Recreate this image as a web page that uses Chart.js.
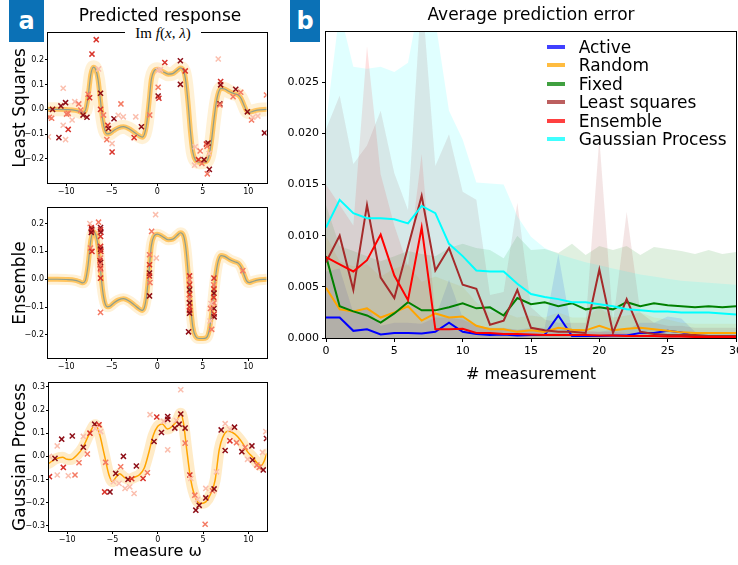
<!DOCTYPE html>
<html>
<head>
<meta charset="utf-8">
<title>Predicted response / prediction error</title>
<script src="https://cdn.jsdelivr.net/npm/chart.js@4.4.1/dist/chart.umd.min.js"></script>
<style>
  html, body { margin: 0; padding: 0; background: #fff; }
  body { position: relative; width: 738px; height: 565px; overflow: hidden; font-family: 'DejaVu Sans', sans-serif; color: #000; }
  canvas { position: absolute; }
  .tag { position: absolute; top: 0; height: 42px; background: #0b71b6; color: #fff; font-weight: bold; font-size: 24px; display: flex; align-items: center; justify-content: center; z-index: 3; }
  .title { position: absolute; font-size: 17px; line-height: 22px; white-space: nowrap; transform: translateX(-50%); z-index: 2; }
  .im { position: absolute; left: 125px; top: 24px; width: 76px; height: 18px; line-height: 18px; background: #fff; text-align: center; font-family: 'Liberation Serif', 'DejaVu Serif', serif; font-size: 15px; z-index: 2; }
  #legendB { position: absolute; left: 547px; top: 37.5px; z-index: 2; }
  #legendB .row { height: 18.5px; display: flex; align-items: center; font-size: 17px; white-space: nowrap; }
  #legendB .sw { width: 18px; height: 4px; margin-right: 13.7px; opacity: 0.75; }
</style>
</head>
<body>
<div class="tag" style="left:9px;width:35px">a</div>
<div class="tag" style="left:290px;width:30px">b</div>
<div class="title" style="left:160px;top:4px">Predicted response</div>
<div class="im">Im <i>f</i>(<i>x</i>, <i>λ</i>)</div>
<div id="legendB"></div>
<canvas id="lsq" width="272" height="200" style="left:0;top:0"></canvas>
<canvas id="ens" width="272" height="200" style="left:0;top:175px"></canvas>
<canvas id="gpr" width="272" height="215" style="left:0;top:350px"></canvas>
<canvas id="err" width="462" height="390" style="left:276px;top:0"></canvas>

<script>
// ---------- panel a: response curves and sampled measurements ----------
const omegaTicks = [-10, -5, 0, 5, 10];
const lsqTicks = [-0.2, -0.1, 0, 0.1, 0.2];
const ensTicks = [-0.2, -0.1, 0, 0.1, 0.2];
const gprTicks = [-0.3, -0.2, -0.1, 0, 0.1, 0.2, 0.3];

// true response Im f(omega)
const curveX = [-12, -11, -10, -9, -8.6, -8.2, -7.9, -7.6, -7.3, -7.0, -6.75, -6.5, -6.25, -6.0, -5.75, -5.5, -5.2, -4.8, -4.3,
  -3.7, -3.1, -2.5, -2.0, -1.65, -1.4, -1.15, -0.9, -0.65, -0.35, 0.0, 0.6, 1.2, 1.7, 2.2, 2.55, 2.9, 3.15, 3.4, 3.65, 3.9,
  4.2, 4.6, 5.0, 5.4, 5.7, 5.95, 6.2, 6.45, 6.7, 7.0, 7.4, 8.0, 8.5, 8.9, 9.2, 9.5, 9.8, 10.1, 10.5, 11, 12];
const curveY = [0, 0, -0.001, -0.004, -0.008, -0.013, -0.005, 0.05, 0.14, 0.17, 0.16, 0.12, 0.04, -0.04, -0.085, -0.099, -0.097,
  -0.086, -0.075, -0.07, -0.078, -0.093, -0.106, -0.112, -0.1, -0.055, 0.03, 0.12, 0.155, 0.162, 0.153, 0.142, 0.144, 0.158,
  0.167, 0.155, 0.11, 0.02, -0.09, -0.17, -0.205, -0.213, -0.213, -0.21, -0.185, -0.13, -0.05, 0.02, 0.065, 0.085, 0.082,
  0.07, 0.063, 0.058, 0.045, 0.02, -0.005, -0.012, -0.008, -0.003, 0];

// Gaussian-process posterior mean
const gprX = [-12, -11.3, -10.5, -10, -9.6, -8.9, -8.25, -7.6, -6.9, -6.5, -5.93, -5.38, -5.0, -4.57, -4.2, -3.72, -3.17, -2.6,
  -2.06, -1.5, -0.96, -0.5, 0, 0.5, 1.07, 1.6, 2.17, 2.54, 2.84, 3.2, 3.65, 4.2, 4.75, 5.3, 5.86, 6.33, 6.78, 7.15, 7.7, 8.25,
  8.8, 9.36, 9.9, 10.46, 11.0, 11.4, 11.75, 12];
const gprY = [-0.03, -0.012, -0.004, -0.013, -0.014, 0.006, 0.039, 0.093, 0.136, 0.107, 0.013, -0.081, -0.11, -0.088, -0.075,
  -0.09, -0.1, -0.091, -0.081, -0.052, 0.02, 0.09, 0.13, 0.14, 0.118, 0.13, 0.158, 0.186, 0.143, 0.028, -0.103, -0.183, -0.204,
  -0.197, -0.161, -0.103, 0.028, 0.08, 0.108, 0.103, 0.086, 0.057, 0.02, -0.003, -0.03, -0.04, -0.02, 0.01];

// measurements: [omega, value, shade]; shade goes from early (light) to late (dark)
const markerShades = ['#fbbfae', '#f47a63', '#d9342b', '#8e0e17'];

const lsqPoints = [
  [-6.70, 0.281, 2], [-7.17, 0.223, 2], [-6.45, 0.163, 0], [-7.60, 0.061, 1], [-7.43, 0.047, 2], [-6.23, 0.065, 3],
  [-6.23, 0.000, 2], [-5.90, -0.023, 1], [-5.43, -0.064, 2], [-5.36, -0.077, 3], [-5.54, -0.122, 1], [-4.96, -0.138, 0],
  [-4.96, -0.172, 2], [-4.75, -0.038, 3], [-4.28, -0.024, 0], [-3.99, 0.022, 1], [-3.73, -0.030, 0], [-2.36, -0.030, 0],
  [-2.54, -0.114, 2], [-1.74, -0.070, 3], [-0.83, -0.023, 1], [0.10, 0.054, 3], [0.18, 0.045, 2], [0.10, 0.089, 1],
  [0.10, 0.157, 0], [0.35, 0.160, 0], [0.83, 0.189, 2], [2.54, 0.196, 3], [2.54, 0.101, 3], [3.08, 0.155, 2],
  [4.17, -0.151, 0], [4.71, -0.168, 1], [4.53, -0.203, 2], [4.90, -0.218, 1], [5.14, -0.203, 3], [5.40, -0.140, 2],
  [5.58, -0.136, 3], [5.47, -0.149, 1], [5.69, -0.178, 0], [5.50, -0.260, 1], [5.72, -0.242, 3], [4.10, -0.225, 0],
  [6.70, 0.203, 0], [6.96, 0.112, 2], [6.96, 0.099, 3], [6.88, 0.022, 3], [6.88, 0.018, 1], [8.33, 0.051, 1],
  [8.62, 0.081, 3], [9.17, 0.069, 1], [9.90, -0.010, 3], [10.36, -0.043, 1], [10.50, -0.032, 0], [11.05, -0.027, 0],
  [11.78, -0.095, 3], [12.00, 0.058, 1], [-11.96, -0.111, 0], [-11.85, -0.032, 1], [-11.60, -0.036, 1], [-11.50, 0.000, 3],
  [-10.58, 0.014, 3], [-10.33, 0.085, 0], [-10.33, -0.064, 0], [-10.80, -0.114, 3], [-10.07, 0.027, 3], [-10.07, -0.122, 0],
  [-9.96, -0.019, 1], [-9.78, -0.081, 2], [-9.78, -0.016, 1], [-9.35, -0.043, 0], [-9.06, 0.031, 0], [-8.62, 0.022, 1],
  [-8.40, -0.003, 1], [-8.15, -0.023, 3], [-7.72, -0.032, 3]
];

const ensPoints = [
  [-7.40, 0.200, 0], [-7.25, 0.186, 2], [-7.20, 0.180, 3], [-7.20, 0.174, 2], [-7.25, 0.168, 3], [-7.33, 0.112, 1],
  [-7.17, 0.100, 2], [-6.45, 0.205, 1], [-6.23, 0.186, 3], [-6.23, 0.178, 2], [-6.20, 0.169, 3], [-6.23, 0.154, 2],
  [-6.23, 0.118, 2], [-6.23, 0.108, 3], [-6.20, 0.100, 2], [-6.23, 0.076, 1], [-6.30, 0.067, 2], [-6.23, 0.060, 3],
  [-6.30, 0.052, 1], [-6.23, 0.040, 2], [-6.23, 0.034, 1], [-6.23, 0.004, 2], [-6.23, -0.119, 1], [-0.85, 0.088, 1],
  [-0.85, 0.052, 2], [-0.85, 0.022, 3], [-0.85, 0.012, 2], [-0.80, -0.012, 1], [-0.85, -0.060, 3], [-0.62, 0.172, 1],
  [-0.18, 0.232, 0], [-0.10, 0.076, 0], [3.55, 0.012, 2], [3.55, -0.002, 1], [3.55, -0.020, 2], [3.55, -0.038, 3],
  [3.55, -0.055, 2], [3.50, -0.070, 1], [3.55, -0.085, 3], [3.55, -0.100, 2], [3.55, -0.112, 2], [3.55, -0.122, 3],
  [3.44, -0.189, 3], [6.23, 0.004, 2], [6.20, -0.020, 1], [6.23, -0.035, 2], [6.23, -0.050, 3], [6.20, -0.065, 2],
  [6.23, -0.085, 1], [6.23, -0.105, 3], [6.25, -0.125, 2], [6.25, -0.135, 3], [5.90, -0.087, 0], [5.85, -0.105, 1],
  [5.98, -0.180, 1], [5.80, -0.150, 0], [9.40, 0.031, 1]
];

const gprPoints = [
  [-11.95, -0.088, 2], [-11.95, 0.000, 0], [-11.34, -0.009, 3], [-11.09, 0.045, 0], [-11.09, -0.081, 0], [-10.60, 0.074, 3],
  [-10.42, -0.048, 2], [-9.87, -0.084, 0], [-9.43, 0.088, 3], [-9.13, -0.081, 1], [-8.69, -0.028, 1], [-8.21, 0.039, 3],
  [-8.21, 0.086, 0], [-7.77, 0.010, 1], [-7.48, 0.100, 2], [-6.96, 0.139, 3], [-6.48, 0.136, 2], [-6.30, 0.107, 0],
  [-6.90, 0.120, 0], [-5.75, -0.026, 1], [-5.86, -0.154, 2], [-5.27, -0.154, 3], [-4.90, -0.110, 0], [-4.64, -0.074, 3],
  [-4.27, -0.117, 0], [-4.09, -0.045, 1], [-3.79, 0.000, 3], [-3.61, -0.139, 0], [-3.28, -0.100, 3], [-3.09, -0.132, 0],
  [-2.87, -0.097, 2], [-2.61, -0.161, 0], [-2.36, -0.042, 3], [-1.62, -0.096, 2], [-1.14, -0.071, 1], [-0.85, 0.180, 0],
  [-0.41, 0.064, 3], [-0.11, 0.170, 2], [0.41, 0.103, 3], [0.63, 0.151, 0], [1.10, 0.028, 0], [1.10, 0.172, 3],
  [1.10, 0.160, 3], [1.88, 0.122, 3], [2.06, 0.155, 0], [2.36, 0.139, 3], [2.54, 0.183, 3], [2.54, 0.288, 0],
  [3.02, 0.122, 3], [3.02, 0.057, 1], [3.54, -0.081, 2], [3.65, -0.096, 0], [4.09, -0.168, 1], [4.38, -0.187, 0],
  [4.20, -0.233, 3], [4.57, -0.212, 3], [5.30, -0.139, 0], [5.30, -0.180, 3], [5.23, -0.294, 1], [6.04, -0.149, 1],
  [6.22, -0.141, 3], [6.48, -0.067, 0], [7.00, 0.114, 3], [7.44, 0.141, 0], [7.44, 0.025, 3], [7.96, 0.067, 2],
  [7.96, 0.117, 0], [8.47, 0.126, 3], [8.69, 0.059, 1], [9.28, 0.020, 3], [9.65, 0.039, 1], [9.91, -0.013, 0],
  [10.39, 0.045, 3], [10.46, -0.016, 3], [10.94, -0.038, 1], [11.20, -0.048, 1], [11.64, -0.059, 3], [11.93, 0.107, 0],
  [12.00, 0.077, 3], [11.56, 0.017, 0]
];

// ---------- panel b: average prediction error vs number of measurements ----------
const steps = [0, 1, 2, 3, 4, 5, 6, 7, 8, 9, 10, 11, 12, 13, 14, 15, 16, 17, 18, 19, 20, 21, 22, 23, 24, 25, 26, 27, 28, 29, 30];
const stepTicks = [0, 5, 10, 15, 20, 25, 30];
const errTicks = [0, 0.005, 0.01, 0.015, 0.02, 0.025];

const seriesNames = ['Active', 'Random', 'Fixed', 'Least squares', 'Ensemble', 'Gaussian Process'];
const seriesColors = ['#0000ff', '#ffa500', '#008000', '#a52a2a', '#ff0000', '#00ffff'];

const activeErr = [0.0020, 0.0020, 0.0007, 0.00085, 0.00035, 0.0005, 0.0005, 0.00045, 0.0006, 0.0015, 0.0006, 0.0004, 0.0003,
  0.00035, 0.00025, 0.0003, 0.0003, 0.0022, 0.0002, 0.0002, 0.0002, 0.00025, 0.00025, 0.0005, 0.0005, 0.0007, 0.00055, 0.0002,
  0.00015, 0.00015, 0.00015];
const randomErr = [0.0049, 0.0028, 0.0026, 0.0029, 0.0020, 0.0025, 0.0031, 0.0017, 0.0024, 0.0020, 0.0021, 0.0012, 0.00085,
  0.00085, 0.0006, 0.00075, 0.0006, 0.0010, 0.0008, 0.00075, 0.0012, 0.00075, 0.0009, 0.0010, 0.00085, 0.0007, 0.00055, 0.0005,
  0.0005, 0.0005, 0.0005];
const fixedErr = [0.0080, 0.0031, 0.0026, 0.0022, 0.0015, 0.0024, 0.0035, 0.0027, 0.0027, 0.0030, 0.0034, 0.0029, 0.0030,
  0.0022, 0.0039, 0.0033, 0.0035, 0.0031, 0.0034, 0.0028, 0.0030, 0.0028, 0.0035, 0.0031, 0.0034, 0.0032, 0.0031, 0.0030,
  0.0031, 0.0030, 0.0031];
const lsqErr = [0.0074, 0.0100, 0.0047, 0.0130, 0.0059, 0.0039, 0.0089, 0.0139, 0.0066, 0.0088, 0.0052, 0.0048, 0.0013, 0.0017,
  0.0047, 0.0010, 0.00075, 0.0006, 0.0006, 0.0005, 0.0067, 0.0005, 0.0038, 0.0006, 0.0004, 0.0003, 0.0003, 0.0003, 0.0002,
  0.0002, 0.0002];
const ensErr = [0.0079, 0.0072, 0.0065, 0.0076, 0.0101, 0.0061, 0.0037, 0.0108, 0.00085, 0.00085, 0.0009, 0.0005, 0.0005,
  0.0004, 0.0004, 0.00035, 0.0003, 0.0003, 0.0003, 0.0003, 0.00025, 0.00025, 0.0002, 0.0002, 0.0002, 0.00015, 0.00015, 0.0001,
  0.0001, 0.0001, 0.0001];
const gprErr = [0.0108, 0.0135, 0.0122, 0.0117, 0.0117, 0.0116, 0.0112, 0.0129, 0.0122, 0.0092, 0.0080, 0.0066, 0.0065,
  0.0065, 0.0053, 0.0043, 0.0040, 0.0038, 0.0035, 0.0035, 0.0033, 0.0031, 0.0028, 0.0027, 0.0026, 0.0026, 0.0025, 0.0025,
  0.0025, 0.0024, 0.0023];

// upper edge of each spread band (bands start at zero)
const activeSpread = [0.0065, 0.0068, 0.0025, 0.0030, 0.0012, 0.0015, 0.0015, 0.0014, 0.0020, 0.0057, 0.0020, 0.0012, 0.0010,
  0.0010, 0.0008, 0.0010, 0.0010, 0.0082, 0.0006, 0.0006, 0.0006, 0.0008, 0.0008, 0.0015, 0.0015, 0.0021, 0.0019, 0.0006,
  0.0005, 0.0005, 0.0005];
const randomSpread = [0.0100, 0.0075, 0.0070, 0.0072, 0.0060, 0.0068, 0.0072, 0.0055, 0.0060, 0.0055, 0.0050, 0.0035, 0.0025,
  0.0025, 0.0020, 0.0022, 0.0020, 0.0025, 0.0020, 0.0020, 0.0030, 0.0020, 0.0022, 0.0025, 0.0020, 0.0018, 0.0015, 0.0014,
  0.0014, 0.0014, 0.0014];
const fixedSpread = [0.0130, 0.0090, 0.0085, 0.0080, 0.0075, 0.0080, 0.0085, 0.0082, 0.0080, 0.0088, 0.0092, 0.0088, 0.0086,
  0.0078, 0.0100, 0.0086, 0.0087, 0.0083, 0.0092, 0.0081, 0.0090, 0.0086, 0.0090, 0.0081, 0.0089, 0.0087, 0.0085, 0.0082,
  0.0086, 0.0082, 0.0084];
const lsqSpread = [0.0204, 0.0237, 0.0170, 0.0188, 0.0222, 0.0161, 0.0125, 0.0340, 0.0168, 0.0199, 0.0143, 0.0135, 0.0042,
  0.0045, 0.0132, 0.0030, 0.0018, 0.0015, 0.0015, 0.0015, 0.0195, 0.0015, 0.0123, 0.0025, 0.0015, 0.0012, 0.0012, 0.0010,
  0.0010, 0.0010, 0.0010];
const ensSpread = [0.0150, 0.0130, 0.0110, 0.0285, 0.0160, 0.0110, 0.0070, 0.0180, 0.0020, 0.0020, 0.0018, 0.0012, 0.0010,
  0.0009, 0.0008, 0.0008, 0.0007, 0.0007, 0.0007, 0.0007, 0.0006, 0.0006, 0.0005, 0.0005, 0.0005, 0.0004, 0.0004, 0.0003,
  0.0003, 0.0003, 0.0003];
const gprSpread = [0.0210, 0.0320, 0.0265, 0.0263, 0.0265, 0.0260, 0.0269, 0.0340, 0.0310, 0.0222, 0.0194, 0.0152, 0.0151,
  0.0150, 0.0119, 0.0099, 0.0088, 0.0082, 0.0078, 0.0074, 0.0071, 0.0068, 0.0065, 0.0062, 0.0060, 0.0058, 0.0056, 0.0055,
  0.0054, 0.0053, 0.0052];

const errSeries = [activeErr, randomErr, fixedErr, lsqErr, ensErr, gprErr];
const errSpread = [activeSpread, randomSpread, fixedSpread, lsqSpread, ensSpread, gprSpread];

// ---------- helpers ----------
Chart.defaults.font.family = "'DejaVu Sans', sans-serif";
Chart.defaults.color = '#000';

const xy = (xs, ys) => xs.map((x, i) => ({ x, y: ys[i] }));
const signed = (v, d) => (v < 0 ? '\u2212' : '') + Math.abs(v).toFixed(d);
function rgba(hex, a) {
  const n = parseInt(hex.slice(1), 16);
  return `rgba(${n >> 16},${(n >> 8) & 255},${n & 255},${a})`;
}

// closed black box round the plot area, like a matplotlib axes frame
const framePlugin = {
  id: 'frame',
  afterDatasetsDraw(chart) {
    const { ctx, chartArea: a } = chart;
    ctx.save();
    ctx.strokeStyle = '#000';
    ctx.lineWidth = 1;
    const l = Math.round(a.left) - 0.5, t = Math.round(a.top) - 0.5;
    const r = Math.round(a.right) + 0.5, b = Math.round(a.bottom) + 0.5;
    ctx.strokeRect(l, t, r - l, b - t);
    ctx.restore();
  }
};
Chart.register(framePlugin);

// linear axis with fixed size and hand-picked ticks
function axis(o) {
  return {
    type: 'linear',
    min: o.min,
    max: o.max,
    afterBuildTicks: s => { s.ticks = o.ticks.map(v => ({ value: v })); },
    afterFit: s => {
      if (o.width != null) s.width = o.width;
      if (o.height != null) s.height = o.height;
      s.paddingLeft = s.paddingRight = s.paddingTop = s.paddingBottom = 0;
    },
    border: { display: false },
    grid: { drawOnChartArea: false, drawTicks: true, tickLength: o.tickLength, color: '#000', lineWidth: 1 },
    ticks: { font: { size: o.fontSize }, padding: o.pad, color: '#000', autoSkip: false, maxRotation: 0,
      callback: v => signed(v, o.digits) },
    title: o.title
      ? { display: true, text: o.title, font: { size: o.titleSize }, padding: o.titlePad, color: '#000' }
      : { display: false },
  };
}

function responsePanel(id, cfg) {
  const marks = {
    data: cfg.points.map(p => ({ x: p[0], y: p[1] })),
    pointStyle: 'crossRot',
    pointRadius: 3.6,
    pointBorderWidth: 1.5,
    pointBorderColor: cfg.points.map(p => markerShades[p[2]]),
    pointBackgroundColor: 'transparent',
    clip: 0,
  };
  const lines = cfg.lines.map(l => ({
    data: l.data, showLine: true, pointRadius: 0, borderColor: l.color, borderWidth: l.width,
    cubicInterpolationMode: 'monotone', borderJoinStyle: 'round', borderCapStyle: 'round', clip: 0,
  }));
  return new Chart(document.getElementById(id), {
    type: 'scatter',
    data: { datasets: [marks, ...lines] },
    options: {
      responsive: false,
      animation: false,
      devicePixelRatio: 1,
      layout: { padding: { top: 33, right: cfg.padRight, left: 0, bottom: 0 } },
      plugins: { legend: { display: false }, tooltip: { enabled: false } },
      scales: {
        x: axis({ min: -12, max: 12, ticks: omegaTicks, digits: 0, height: cfg.xHeight, tickLength: 3, pad: 1, fontSize: 8,
          title: cfg.xTitle, titleSize: 16, titlePad: { top: 0, bottom: 3.5 } }),
        y: axis({ min: cfg.yMin, max: cfg.yMax, ticks: cfg.yTicks, digits: 1, width: cfg.yWidth, tickLength: 3, pad: 1,
          fontSize: 8, title: cfg.yTitle, titleSize: 17, titlePad: { top: 10, bottom: 0 } }),
      },
    },
  });
}

// ---------- panel a ----------
const truth = xy(curveX, curveY);
// ensemble draws: true curve seen through a stack of translucent orange samples
const ensembleLines = (outer) => [
  { data: truth, color: 'rgba(31,119,180,0.5)', width: 1.2 },
  { data: truth, color: 'rgba(255,160,0,0.55)', width: 5 },
  { data: truth, color: 'rgba(255,165,0,0.16)', width: outer },
];

responsePanel('lsq', {
  points: lsqPoints, lines: ensembleLines(14), yMin: -0.297, yMax: 0.308, yTicks: lsqTicks,
  yTitle: 'Least Squares', yWidth: 48, xHeight: 17, padRight: 3,
});
responsePanel('ens', {
  points: ensPoints, lines: ensembleLines(11), yMin: -0.283, yMax: 0.256, yTicks: ensTicks,
  yTitle: 'Ensemble', yWidth: 48, xHeight: 17, padRight: 3,
});
const gprMean = xy(gprX, gprY);
responsePanel('gpr', {
  points: gprPoints,
  lines: [
    { data: gprMean, color: '#ffa500', width: 1.5 },
    { data: gprMean, color: 'rgba(255,165,0,0.22)', width: 11 },
  ],
  yMin: -0.323, yMax: 0.317, yTicks: gprTicks,
  yTitle: 'Gaussian Process', xTitle: 'measure ω', yWidth: 49, xHeight: 34, padRight: 4,
});

// ---------- panel b ----------
const lineSets = errSeries.map((vals, i) => ({
  data: xy(steps, vals), showLine: true, borderColor: seriesColors[i], borderWidth: 2, pointRadius: 0, tension: 0,
})).reverse();
const bandSets = errSpread.map((vals, i) => ({
  data: xy(steps, vals), showLine: true, borderWidth: 0, borderColor: 'transparent', pointRadius: 0,
  fill: 'origin', backgroundColor: rgba(seriesColors[i], 0.12), clip: 0,
})).reverse();

new Chart(document.getElementById('err'), {
  type: 'scatter',
  data: { datasets: [...lineSets, ...bandSets] },
  options: {
    responsive: false,
    animation: false,
    devicePixelRatio: 1,
    layout: { padding: { top: 0, right: 2, left: 0, bottom: 0 } },
    plugins: {
      legend: { display: false },
      tooltip: { enabled: false },
      title: {
        display: true, text: 'Average prediction error', fullSize: false, color: '#000',
        font: { size: 17, weight: 'normal' }, padding: { top: 5, bottom: 6.6 },
      },
    },
    scales: {
      x: axis({ min: 0, max: 30, ticks: stepTicks, digits: 0, height: 52, tickLength: 4, pad: 3, fontSize: 11,
        title: '# measurement', titleSize: 16, titlePad: { top: 0, bottom: 5.4 } }),
      y: axis({ min: 0, max: 0.0299, ticks: errTicks, digits: 3, width: 50, tickLength: 4, pad: 3, fontSize: 11 }),
    },
  },
});

// legend for panel b
const legendEl = document.getElementById('legendB');
seriesNames.forEach((name, i) => {
  const row = document.createElement('div');
  row.className = 'row';
  const sw = document.createElement('span');
  sw.className = 'sw';
  sw.style.background = seriesColors[i];
  const label = document.createElement('span');
  label.textContent = name;
  row.append(sw, label);
  legendEl.appendChild(row);
});
</script>
</body>
</html>
